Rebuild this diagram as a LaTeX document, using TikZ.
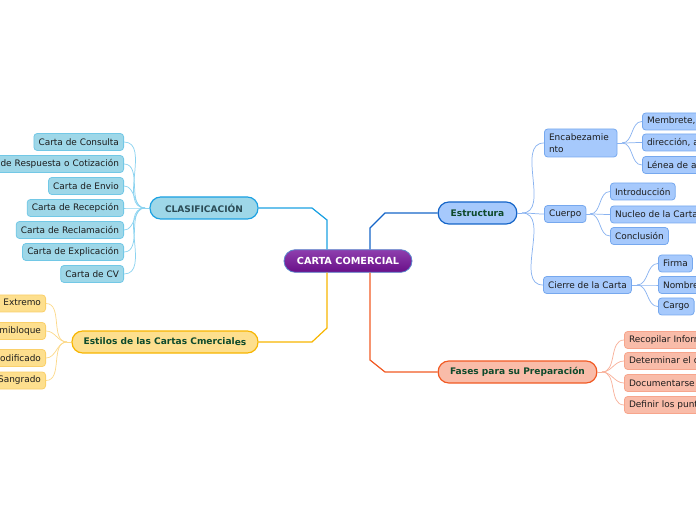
\documentclass[tikz,border=0pt]{standalone}
\usepackage{fontspec}
\setmainfont{DejaVu Sans}

\definecolor{centerTop}{HTML}{8E3FAE}
\definecolor{centerBot}{HTML}{690F88}
\definecolor{centerRim}{HTML}{5A86CC}
\definecolor{clasLine}{HTML}{1BA1E2}
\definecolor{clasFill}{HTML}{9ED7E8}
\definecolor{clasLeafRim}{HTML}{72C8E6}
\definecolor{clasThin}{HTML}{8CD3F0}
\definecolor{clasText}{HTML}{2B4C56}
\definecolor{estrLine}{HTML}{1565C8}
\definecolor{estrFill}{HTML}{A6C9FC}
\definecolor{estrLeafRim}{HTML}{76A8EE}
\definecolor{estrThin}{HTML}{8AB3F0}
\definecolor{estiLine}{HTML}{F7B500}
\definecolor{estiFill}{HTML}{FDDF8E}
\definecolor{estiLeafRim}{HTML}{FAD06A}
\definecolor{estiThin}{HTML}{FCD98A}
\definecolor{faseLine}{HTML}{F15A24}
\definecolor{faseFill}{HTML}{F9BCA9}
\definecolor{faseLeafRim}{HTML}{F7A58C}
\definecolor{faseThin}{HTML}{F8B19A}
\definecolor{topicText}{HTML}{0E4A2C}
\definecolor{leafText}{HTML}{1C1C1C}

\tikzset{every picture/.style={line width=0.75pt}}
\tikzset{
  topic/.style={rounded corners=8pt, minimum height=16.5pt, inner sep=0pt, line width=0.9pt,
    font=\fontsize{6.8}{8}\selectfont\bfseries, text=topicText},
  leaf/.style={rounded corners=2.5pt, minimum height=12.75pt, inner xsep=3.5pt, inner ysep=0pt,
    line width=0.6pt, font=\fontsize{6.7}{9}\selectfont, text=leafText},
  clasleaf/.style={leaf, fill=clasFill, draw=clasLeafRim, anchor=east},
  estrleaf/.style={leaf, fill=estrFill, draw=estrLeafRim, anchor=west},
  estileaf/.style={leaf, fill=estiFill, draw=estiLeafRim, anchor=east},
  faseleaf/.style={leaf, fill=faseFill, draw=faseLeafRim, anchor=west},
  cutleft/.style={text width=#1, align=right},
  cutright/.style={text width=#1, align=left},
  mainedge/.style={line width=0.9pt},
  thinedge/.style={line width=0.55pt},
}

\begin{document}
\begin{tikzpicture}[x=0.75pt,y=0.75pt,yscale=-1,xscale=1]
\useasboundingbox (0,0) rectangle (696,520);
\clip (0,0) rectangle (696,520);

% Central topic
\node (cc) at (348,261) [rounded corners=8.5pt, minimum width=96pt, minimum height=17pt, inner sep=0pt,
  top color=centerTop, bottom color=centerBot, draw=centerRim, line width=0.6pt,
  font=\fontsize{7.3}{9}\selectfont\bfseries, text=white] {CARTA COMERCIAL};

% Main topics
\node (clas) at (204,208) [topic, minimum width=81pt, fill=clasFill, draw=clasLine, text=clasText] {CLASIFICACIÓN};
\node (estr) at (477.5,213) [topic, minimum width=59pt, fill=estrFill, draw=estrLine] {Estructura};
\node (esti) at (165,342) [topic, minimum width=139.5pt, fill=estiFill, draw=estiLine] {Estilos de las Cartas Cmercial\raisebox{-0.7pt}{es}};
\node (fase) at (517.5,372) [topic, minimum width=119pt, fill=faseFill, draw=faseLine] {Fases para su Preparación};

%Straight Lines from the centre
\draw [mainedge, clasLine] (clas.east) -- (312,208) -- (327,220) -- (327,220 |- cc.north);
\draw [mainedge, estrLine] (estr.west) -- (385,213) -- (370,228) -- (370,228 |- cc.north);
\draw [mainedge, estiLine] (esti.east) -- (312,342) -- (327,328) -- (327,328 |- cc.south);
\draw [mainedge, faseLine] (fase.west) -- (385,372) -- (370,360) -- (370,360 |- cc.south);

% CLASIFICACION leaves
\node (cl1) at (124,142) [clasleaf] {Carta de Consulta};
\node (cl2) at (124,164) [clasleaf, cutleft=150pt] {Carta de Respuesta o Cotización};
\node (cl3) at (124,186) [clasleaf] {Carta de Envio};
\node (cl4) at (124,208) [clasleaf] {Carta de Recepción};
\node (cl5) at (124,230) [clasleaf] {Carta de Reclamación};
\node (cl6) at (124,252) [clasleaf] {Carta de Explicación};
\node (cl7) at (124,274) [clasleaf] {Carta de CV};
\coordinate (clasfan) at (145,208);
\draw [thinedge, clasThin] (clas.west) -- (clasfan);
\foreach \k in {1,...,7}
  \draw [thinedge, clasThin] (clasfan) to[out=180,in=0] (cl\k.east);

% Estilos leaves
\node (es1) at (46,303.5) [estileaf, cutleft=70pt] {Bloque Extremo};
\node (es2) at (46,331) [estileaf, cutleft=70pt] {Semibloque};
\node (es3) at (46,358) [estileaf, cutleft=70pt] {Modificado};
\node (es4) at (46,380.5) [estileaf, cutleft=70pt] {Sangrado};
\coordinate (estifan) at (67,342);
\draw [thinedge, estiThin] (esti.west) -- (estifan);
\foreach \k in {1,...,4}
  \draw [thinedge, estiThin] (estifan) to[out=180,in=0] (es\k.east);

% Estructura branches
\node (enc) at (544,143) [estrleaf, minimum height=21pt, cutright=47.5pt] {Encabezamie\\nto};
\node (cue) at (544,214) [estrleaf] {Cuerpo};
\node (cie) at (543,285) [estrleaf] {Cierre de la Carta};
\coordinate (estrfan) at (522,213);
\draw [thinedge, estrThin] (estr.east) -- (estrfan);
\foreach \n in {enc,cue,cie}
  \draw [thinedge, estrThin] (estrfan) to[out=0,in=180] (\n.west);

% Encabezamiento leaves
\node (en1) at (642,121.5) [estrleaf, cutright=80pt] {Membrete, logotipo};
\node (en2) at (642,142.5) [estrleaf, cutright=80pt] {dirección, asunto};
\node (en3) at (642,165) [estrleaf, cutright=80pt] {Lénea de atención};
\coordinate (encfan) at (622,143);
\draw [thinedge, estrThin] (enc.east) -- (encfan);
\foreach \k in {1,2,3}
  \draw [thinedge, estrThin] (encfan) to[out=0,in=180] (en\k.west);

% Cuerpo leaves
\node (cu1) at (610,191.5) [estrleaf] {Introducción};
\node (cu2) at (610,214.5) [estrleaf] {Nucleo de la Carta};
\node (cu3) at (610,236) [estrleaf] {Conclusión};
\coordinate (cuefan) at (590,214);
\draw [thinedge, estrThin] (cue.east) -- (cuefan);
\foreach \k in {1,2,3}
  \draw [thinedge, estrThin] (cuefan) to[out=0,in=180] (cu\k.west);

% Cierre leaves
\node (ci1) at (658,263.5) [estrleaf] {Firma};
\node (ci2) at (658,285) [estrleaf, cutright=60pt] {Nombre};
\node (ci3) at (658,306.5) [estrleaf] {Cargo};
\coordinate (ciefan) at (637,285);
\draw [thinedge, estrThin] (cie.east) -- (ciefan);
\foreach \k in {1,2,3}
  \draw [thinedge, estrThin] (ciefan) to[out=0,in=180] (ci\k.west);

% Fases leaves
\node (fa1) at (624,340) [faseleaf, cutright=90pt] {Recopilar Información};
\node (fa2) at (624,361) [faseleaf, cutright=90pt] {Determinar el objetivo};
\node (fa3) at (624,383) [faseleaf, cutright=90pt] {Documentarse};
\node (fa4) at (624,405) [faseleaf, cutright=90pt] {Definir los puntos};
\coordinate (fasefan) at (602,372);
\draw [thinedge, faseThin] (fase.east) -- (fasefan);
\foreach \k in {1,...,4}
  \draw [thinedge, faseThin] (fasefan) to[out=0,in=180] (fa\k.west);

\end{tikzpicture}
\end{document}
